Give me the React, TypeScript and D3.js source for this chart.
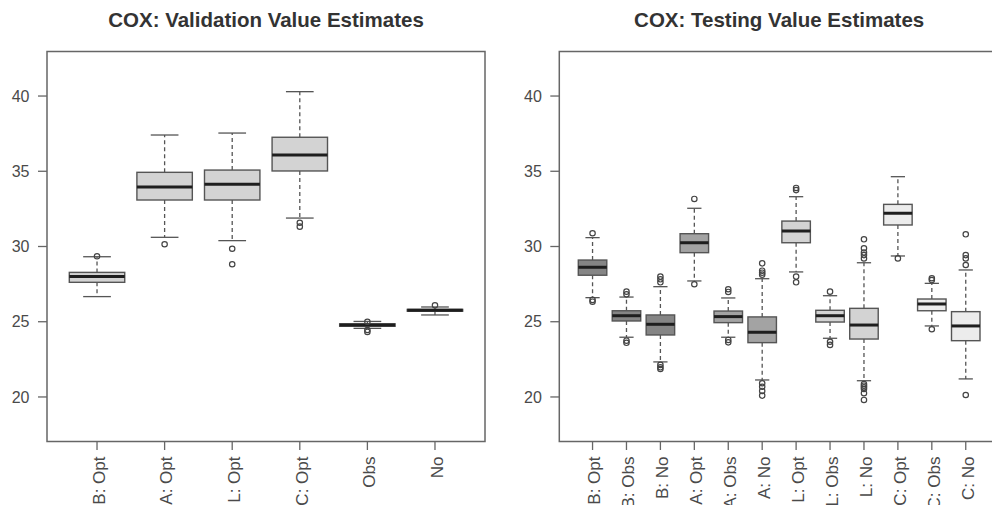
import React from 'react';
import * as d3 from 'd3';

// ---------- Validation panel data ----------
const valCategories = ['B: Opt', 'A: Opt', 'L: Opt', 'C: Opt', 'Obs', 'No'];
const valLowerWhisker = [26.67, 30.61, 30.39, 31.89, 24.56, 25.45];
const valQ1 = [27.62, 33.09, 33.09, 35.02, 24.70, 25.70];
const valMedian = [28.0, 33.95, 34.13, 36.08, 24.78, 25.76];
const valQ3 = [28.28, 34.93, 35.08, 37.26, 24.86, 25.82];
const valUpperWhisker = [29.32, 37.41, 37.54, 40.29, 25.02, 25.98];
const valOutliers = [[29.35], [30.15], [29.85, 28.82], [31.58, 31.32], [25.0, 24.45, 24.32], [26.09]];
const valFills = ['#d3d3d3', '#d3d3d3', '#d3d3d3', '#d3d3d3', '#d3d3d3', '#d3d3d3'];

// ---------- Testing panel data ----------
const testCategories = ['B: Opt', 'B: Obs', 'B: No', 'A: Opt', 'A: Obs', 'A: No', 'L: Opt', 'L: Obs', 'L: No', 'C: Opt', 'C: Obs', 'C: No'];
const testLowerWhisker = [26.60, 23.97, 22.33, 27.71, 23.97, 21.13, 28.31, 23.90, 21.08, 29.37, 24.72, 21.20];
const testQ1 = [28.09, 25.05, 24.12, 29.59, 24.94, 23.61, 30.25, 24.98, 23.85, 31.43, 25.73, 23.74];
const testMedian = [28.62, 25.40, 24.83, 30.25, 25.34, 24.30, 31.03, 25.40, 24.78, 32.21, 26.18, 24.72];
const testQ3 = [29.10, 25.73, 25.45, 30.85, 25.71, 25.32, 31.69, 25.76, 25.89, 32.80, 26.51, 25.67];
const testUpperWhisker = [30.59, 26.64, 27.33, 32.54, 26.58, 27.86, 33.31, 26.73, 28.92, 34.64, 27.55, 28.44];
const testOutliers = [
  [30.88, 26.45, 26.33],
  [27.0, 26.82, 23.74, 23.6],
  [28.0, 27.82, 27.62, 22.13, 21.97, 21.86],
  [33.16, 27.49],
  [27.16, 26.98, 23.79, 23.63],
  [28.88, 28.39, 28.26, 28.13, 20.91, 20.68, 20.40, 20.09],
  [33.89, 33.75, 28.0, 27.62],
  [27.0, 23.67, 23.46],
  [30.48, 29.88, 29.6, 29.43, 29.21, 20.86, 20.75, 20.64, 20.53, 20.25, 19.80],
  [29.21],
  [27.89, 27.77, 24.50],
  [30.81, 29.43, 29.21, 28.77, 20.13],
];
const testFills = ['#858585', '#858585', '#858585', '#a3a3a3', '#a3a3a3', '#a3a3a3', '#d3d3d3', '#d3d3d3', '#d3d3d3', '#ececec', '#ececec', '#ececec'];

const yTicks = [20, 25, 30, 35, 40];
const yLim = [18, 42];

const W = 992;
const H = 505;
const plotTop = 51.5;
const plotBottom = 441.5;
const FONT = '"Liberation Sans", Arial, Helvetica, sans-serif';

type PanelProps = {
  title: string;
  categories: string[];
  lo: number[];
  q1: number[];
  med: number[];
  q3: number[];
  hi: number[];
  outliers: number[][];
  fills: string[];
  left: number;
  right: number;
  halfWidth: number;
};

function Panel(p: PanelProps) {
  const n = p.categories.length;
  const padX = n * 0.04;
  const x = d3.scaleLinear().domain([0.5 - padX, n + 0.5 + padX]).range([p.left, p.right]);
  const span = yLim[1] - yLim[0];
  const y = d3.scaleLinear().domain([yLim[0] - span * 0.04, yLim[1] + span * 0.04]).range([plotBottom, plotTop]);
  const pxPerUnit = x(2) - x(1);
  const hw = p.halfWidth * pxPerUnit;
  const cw = hw * 0.5;
  const axisColor = '#666';
  const textColor = '#4a4a4a';
  const boxStroke = '#555';

  return (
    <g>
      <text
        x={(p.left + p.right) / 2}
        y={26.5}
        textAnchor="middle"
        fontFamily={FONT}
        fontWeight="bold"
        fontSize={20.5}
        fill="#333"
      >
        {p.title}
      </text>
      {/* boxes */}
      {p.categories.map((c, i) => {
        const cx = x(i + 1);
        return (
          <g key={c}>
            <line x1={cx} x2={cx} y1={y(p.q3[i])} y2={y(p.hi[i])} stroke={boxStroke} strokeWidth={1.3} strokeDasharray="4,3" />
            <line x1={cx} x2={cx} y1={y(p.q1[i])} y2={y(p.lo[i])} stroke={boxStroke} strokeWidth={1.3} strokeDasharray="4,3" />
            <line x1={cx - cw} x2={cx + cw} y1={y(p.hi[i])} y2={y(p.hi[i])} stroke={boxStroke} strokeWidth={1.3} />
            <line x1={cx - cw} x2={cx + cw} y1={y(p.lo[i])} y2={y(p.lo[i])} stroke={boxStroke} strokeWidth={1.3} />
            <rect
              x={cx - hw}
              y={y(p.q3[i])}
              width={2 * hw}
              height={Math.max(0.5, y(p.q1[i]) - y(p.q3[i]))}
              fill={p.fills[i]}
              stroke={boxStroke}
              strokeWidth={1.4}
            />
            <line x1={cx - hw} x2={cx + hw} y1={y(p.med[i])} y2={y(p.med[i])} stroke="#1e1e1e" strokeWidth={3} />
            {p.outliers[i].map((v, j) => (
              <circle key={j} cx={cx} cy={y(v)} r={2.7} fill="none" stroke="#444" strokeWidth={1.2} />
            ))}
          </g>
        );
      })}
      {/* frame */}
      <rect x={p.left} y={plotTop} width={p.right - p.left} height={plotBottom - plotTop} fill="none" stroke={axisColor} strokeWidth={1.5} />
      {/* y axis */}
      {yTicks.map((t) => (
        <g key={t}>
          <line x1={p.left - 9} x2={p.left} y1={y(t)} y2={y(t)} stroke={axisColor} strokeWidth={1.3} />
          <text x={p.left - 17.5} y={y(t)} dy="0.36em" textAnchor="end" fontFamily={FONT} fontSize={16} fill={textColor}>
            {t}
          </text>
        </g>
      ))}
      {/* x axis */}
      {p.categories.map((c, i) => {
        const cx = x(i + 1);
        return (
          <g key={c}>
            <line x1={cx} x2={cx} y1={plotBottom} y2={plotBottom + 8.5} stroke={axisColor} strokeWidth={1.3} />
            <text
              transform={`translate(${cx + 7.8},${456.5}) rotate(-90)`}
              textAnchor="end"
              fontFamily={FONT}
              fontSize={17}
              fill={textColor}
            >
              {c}
            </text>
          </g>
        );
      })}
    </g>
  );
}

export default function App() {
  return (
    <svg width={W} height={H} style={{ position: 'absolute', left: 0, top: 0, background: '#fff' }}>
      <rect x={0} y={0} width={W} height={H} fill="#fff" />
      <Panel
        title="COX: Validation Value Estimates"
        categories={valCategories}
        lo={valLowerWhisker}
        q1={valQ1}
        med={valMedian}
        q3={valQ3}
        hi={valUpperWhisker}
        outliers={valOutliers}
        fills={valFills}
        left={47}
        right={485}
        halfWidth={0.41}
      />
      <Panel
        title="COX: Testing Value Estimates"
        categories={testCategories}
        lo={testLowerWhisker}
        q1={testQ1}
        med={testMedian}
        q3={testQ3}
        hi={testUpperWhisker}
        outliers={testOutliers}
        fills={testFills}
        left={559.3}
        right={999}
        halfWidth={0.42}
      />
    </svg>
  );
}
